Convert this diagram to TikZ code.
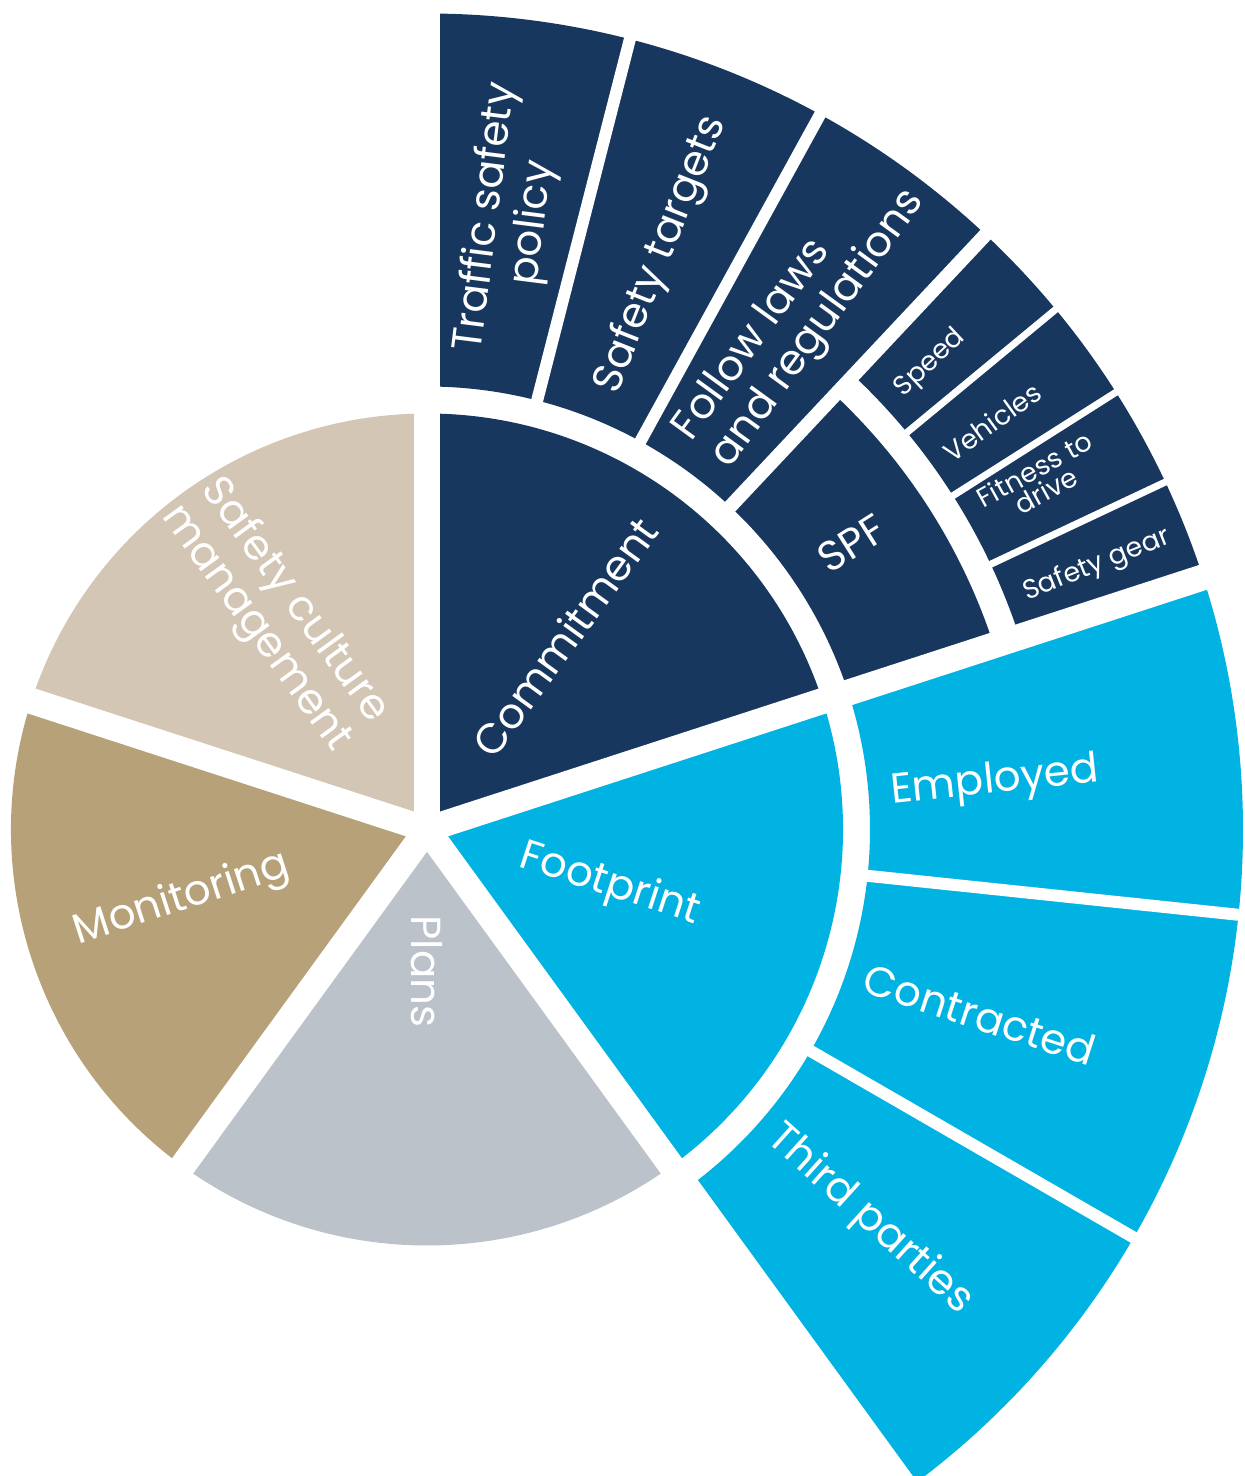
\documentclass[tikz,border=0pt]{standalone}
\usepackage{fontspec}
\setmainfont{Poppins}
\definecolor{navy}{RGB}{23,55,94}
\definecolor{skyblue}{RGB}{0,179,226}
\definecolor{sand}{RGB}{211,198,180}
\definecolor{khaki}{RGB}{182,161,120}
\definecolor{slate}{RGB}{187,194,202}
\tikzset{
  lbl/.style={text=white, inner sep=0pt, align=center, font=\fontsize{42}{47}\selectfont},
  smalllbl/.style={text=white, inner sep=0pt, align=center, font=\fontsize{27}{24}\selectfont}
}

\begin{document}
\begin{tikzpicture}[x=1pt, y=1pt]
    \useasboundingbox (-427,-646.5) rectangle (818,829.5);

    \foreach \col/\a/\b in {navy/18/90, sand/90/162, khaki/162/234, slate/234/306, skyblue/306/378}
        \fill[\col] (0,0) -- (\a:416) arc[start angle=\a, end angle=\b, radius=416] -- cycle;

    \foreach \col/\a/\b/\r/\s in {navy/75.6/90/443/816, navy/61.2/75.6/443/816, navy/46.8/61.2/443/816,
        navy/18/46.8/443/596, navy/18/46.8/623/816,
        skyblue/-6/18/443/816, skyblue/-30/-6/443/816, skyblue/-54/-30/443/816}
        \fill[\col] (\a:\r) arc[start angle=\a, end angle=\b, radius=\r] -- (\b:\s) arc[start angle=\b, end angle=\a, radius=\s] -- cycle;

    \foreach \a in {90,18,-54,-126,162}
        \draw[white, line width=26] (0,0) -- (\a:840);
    \foreach \a in {75.6,61.2,-6,-30}
        \draw[white, line width=12] (\a:430) -- (\a:840);
    \draw[white, line width=14] (46.8:430) -- (46.8:840);
    \foreach \a in {39.6,32.4,25.2}
        \draw[white, line width=7] (\a:610) -- (\a:840);

    \node[lbl, rotate=54] (commitment) at (54.4:237) {Commitment};
    \node[lbl, rotate=-18] (footprint) at (-16.9:191) {Footprint};
    \node[lbl, rotate=-90] (plans) at (-90:142) {Plans};
    \node[lbl, rotate=18] (monitoring) at (196:255) {Monitoring};
    \node[lbl, rotate=-54] (culture) at (125.3:263) {Safety culture\\management};

    \node[lbl, rotate=82.8] (policy) at (82.2:615) {Traffic safety\\policy};
    \node[lbl, rotate=68.4] (targets) at (67.8:621) {Safety targets};
    \node[lbl, rotate=54, align=left] (laws) at (54:635) {Follow laws\\and regulations};
    \node[lbl, rotate=32.4] (spf) at (34:512) {SPF};
    \node[lbl, rotate=6] (employed) at (4.7:570) {Employed};
    \node[lbl, rotate=-18] (contracted) at (-18.5:583) {Contracted};
    \node[lbl, rotate=-42] (thirdparties) at (-41.4:590) {Third parties};

    \node[smalllbl, rotate=43.2] (speed) at (42.8:686) {Speed};
    \node[smalllbl, rotate=36] (vehicles) at (35.8:697) {Vehicles};
    \node[smalllbl, rotate=28.8] (fitness) at (29.7:706) {Fitness to\\drive};
    \node[smalllbl, rotate=21.6] (gear) at (21.5:720) {Safety gear};
\end{tikzpicture}
\end{document}
